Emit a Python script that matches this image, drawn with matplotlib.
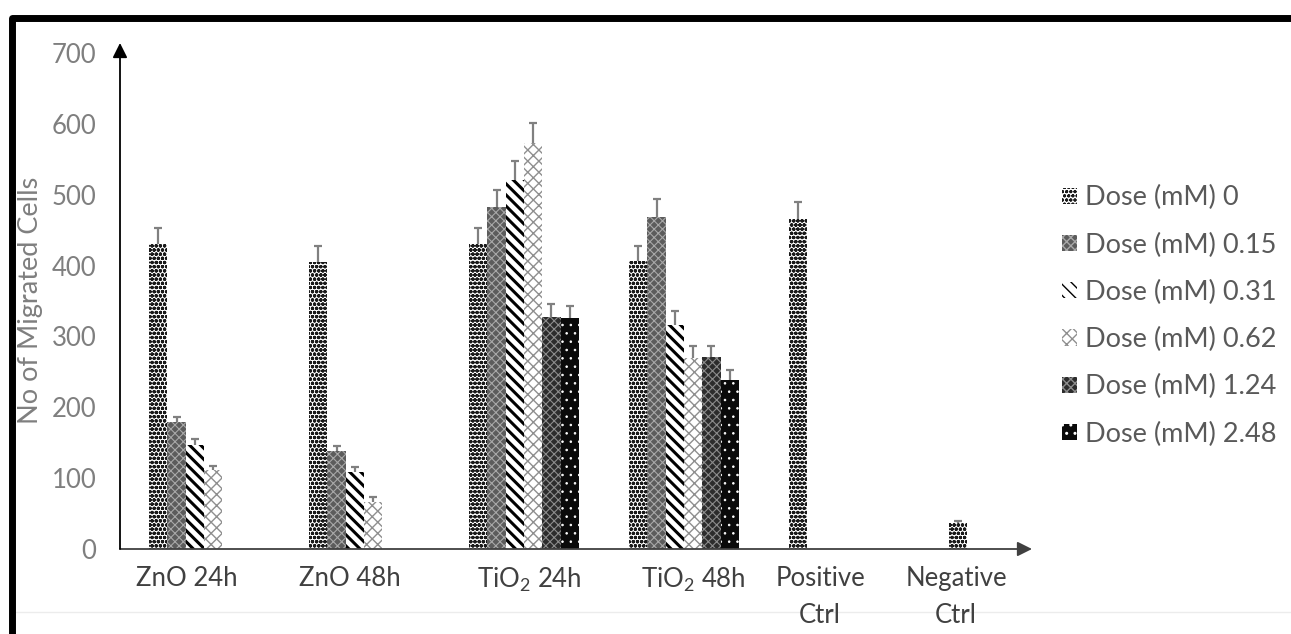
import numpy as np
import matplotlib
matplotlib.use('Agg')
import matplotlib.pyplot as plt
from matplotlib.lines import Line2D
from matplotlib.transforms import ScaledTranslation

# --- data ---
categories = ['ZnO 24h', 'ZnO 48h', r'TiO$_\mathregular{2}$ 24h',
              r'TiO$_\mathregular{2}$ 48h', 'Positive\nCtrl', 'Negative\nCtrl']
doses = ['0', '0.15', '0.31', '0.62', '1.24', '2.48']
nan = np.nan
dose_0 = [430, 405, 430, 406, 466, 37]
dose_015 = [179, 138, 483, 469, nan, nan]
dose_031 = [147, 109, 521, 316, nan, nan]
dose_062 = [111, 67, 573, 269, nan, nan]
dose_124 = [nan, nan, 327, 271, nan, nan]
dose_248 = [nan, nan, 326, 238, nan, nan]
err_0 = [23, 23, 23, 22, 24, 3]
err_015 = [7, 7, 24, 25, nan, nan]
err_031 = [8, 7, 26, 20, nan, nan]
err_062 = [6, 6, 28, 17, nan, nan]
err_124 = [nan, nan, 19, 15, nan, nan]
err_248 = [nan, nan, 17, 15, nan, nan]
yticks = [0, 100, 200, 300, 400, 500, 600, 700]

means = [dose_0, dose_015, dose_031, dose_062, dose_124, dose_248]
errs = [err_0, err_015, err_031, err_062, err_124, err_248]

# fill / hatch look of each dose (greyscale Excel patterns)
styles = [
    dict(fc='white', ec='#1a1a1a', hatch='oooo', hlw=1.2),
    dict(fc='#5c5c5c', ec='#a8a8a8', hatch='xxxx', hlw=0.8),
    dict(fc='white', ec='black', hatch='\\\\\\', hlw=2.2),
    dict(fc='white', ec='#8f8f8f', hatch='xxx', hlw=1.0),
    dict(fc='#2c2c2c', ec='#8c8c8c', hatch='xxxx', hlw=0.8),
    dict(fc='#0a0a0a', ec='white', hatch='..', hlw=0.6),
]

# label nudges (px) to match where the labels sit in the reference
label_shift_px = [-17, -14, 5, 9, -24, -48]

plt.rcParams['font.family'] = ['Lato', 'DejaVu Sans']
plt.rcParams['mathtext.fontset'] = 'custom'
plt.rcParams['mathtext.rm'] = 'Lato'

W, H = 1291, 634
fig = plt.figure(figsize=(W / 100, H / 100), dpi=100)
ax = fig.add_axes([120 / W, 1 - 549 / H, (1032 - 120) / W, (549 - 43) / H])

x = np.arange(len(categories))
width = 0.1144
n = len(doses)

for i, (m, e, st) in enumerate(zip(means, errs, styles)):
    m = np.array(m, dtype=float)
    e = np.array(e, dtype=float)
    ok = ~np.isnan(m)
    xs = x[ok] + (i - (n - 1) / 2) * width
    bars = ax.bar(xs, m[ok], width, color=st['fc'], edgecolor=st['ec'],
                  hatch=st['hatch'], linewidth=0, label=f'Dose (mM) {doses[i]}')
    for b in bars:
        if hasattr(b, 'set_hatch_linewidth'):
            b.set_hatch_linewidth(st['hlw'])
    # plus-only error bars
    line, caps, _ = ax.errorbar(xs, m[ok], yerr=[np.zeros(ok.sum()), e[ok]],
                                fmt='none', ecolor='#808080', elinewidth=1.6,
                                capsize=3, capthick=1.6)
    caps[0].set_visible(False)

ax.set_xlim(-0.525, 5.175)
ax.set_ylim(0, 714)
ax.set_yticks(yticks)
ax.set_yticklabels([str(t) for t in yticks], color='#7f7f7f', fontsize=18.5)
ax.set_xticks(x)
ax.set_xticklabels(categories, color='#404040', fontsize=18.5, linespacing=1.6)
ax.tick_params(axis='y', length=0, pad=17)
ax.tick_params(axis='x', length=0, pad=12)
for lab, dx in zip(ax.get_xticklabels(), label_shift_px):
    lab.set_transform(lab.get_transform() + ScaledTranslation(dx / 100, 0, fig.dpi_scale_trans))

for s in ax.spines.values():
    s.set_visible(False)

# axis arrows
arrow = dict(arrowstyle='-|>', color='black', lw=1.3, mutation_scale=22,
             shrinkA=0, shrinkB=0)
ax.annotate('', xy=(1, 0), xytext=(0, 0), xycoords='axes fraction',
            arrowprops=dict(arrow, color='#404040'), annotation_clip=False)
ax.annotate('', xy=(0, 1), xytext=(0, 0), xycoords='axes fraction',
            arrowprops=arrow, annotation_clip=False)

fig.text(31 / W, 1 - 300 / H, 'No of Migrated Cells', rotation=90,
         ha='center', va='center', color='#7f7f7f', fontsize=19.5)

leg = fig.legend(loc='center left', bbox_to_anchor=(1062 / W, 1 - 316 / H),
                 frameon=False, fontsize=19.5, handlelength=0.55, handleheight=0.55,
                 handletextpad=0.3, labelspacing=0.82, borderpad=0, borderaxespad=0)
for t in leg.get_texts():
    t.set_color('#595959')

# black frame at top/left and faint rule near the bottom (behind the labels)
fig.add_artist(Line2D([12 / W, 12 / W, 1], [0, 1 - 17.5 / H, 1 - 17.5 / H],
                      color='black', lw=5, solid_joinstyle='round',
                      transform=fig.transFigure))
fig.add_artist(Line2D([15 / W, 1], [1 - 612 / H, 1 - 612 / H], color='#ececec',
                      lw=1, transform=fig.transFigure, zorder=-5))

fig.savefig('out.png', dpi=100)
